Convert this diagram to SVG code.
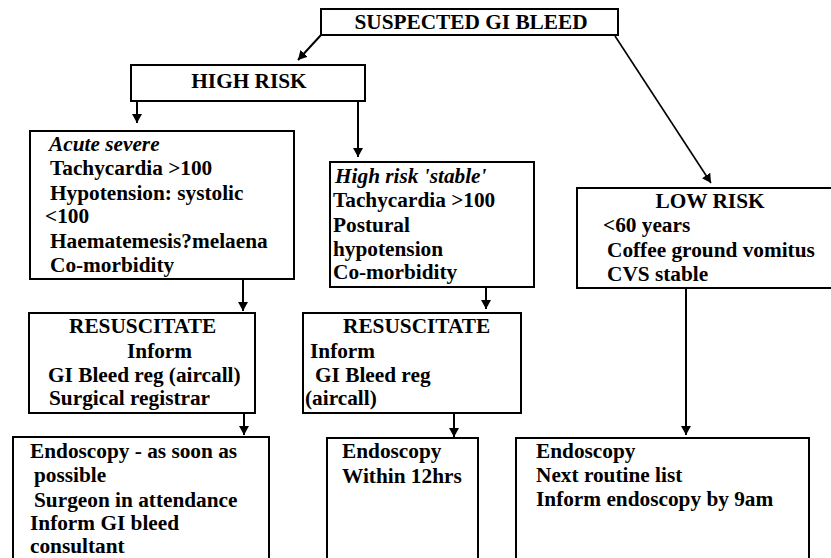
<svg xmlns="http://www.w3.org/2000/svg" width="831" height="558" viewBox="0 0 831 558">
  <style>
    .box { fill: #ffffff; stroke: #000000; stroke-width: 2; }
    text { font-family: 'Liberation Serif', Tinos, 'Times New Roman', Times, 'DejaVu Serif', serif; font-size: 21.3px; font-weight: bold; fill: #000000; }
    .it { font-style: italic; }
    .mid { text-anchor: middle; }
    .conn { fill: none; stroke: #000000; stroke-width: 2; }
    .thin { stroke-width: 1.6; }
  </style>
  <defs>
    <marker id="arrow" viewBox="0 0 9 10" refX="9" refY="5" markerWidth="9" markerHeight="10" markerUnits="userSpaceOnUse" orient="auto">
      <path d="M0,0 L9,5 L0,10 z" fill="#000000"/>
    </marker>
  </defs>
  <rect width="831" height="558" fill="#ffffff"/>

  <!-- connectors -->
  <g id="connectors">
    <line class="conn" x1="321" y1="35" x2="298" y2="60" marker-end="url(#arrow)"/>
    <line class="conn thin" x1="615" y1="36" x2="711" y2="183" marker-end="url(#arrow)"/>
    <line class="conn" x1="137" y1="101" x2="137" y2="123" marker-end="url(#arrow)"/>
    <line class="conn" x1="358" y1="101" x2="358" y2="157" marker-end="url(#arrow)"/>
    <line class="conn" x1="243" y1="279" x2="243" y2="311" marker-end="url(#arrow)"/>
    <line class="conn" x1="486" y1="287" x2="486" y2="309" marker-end="url(#arrow)"/>
    <line class="conn" x1="244" y1="413" x2="244" y2="435" marker-end="url(#arrow)"/>
    <line class="conn" x1="454" y1="413" x2="454" y2="437" marker-end="url(#arrow)"/>
    <line class="conn" x1="686" y1="288" x2="686" y2="435" marker-end="url(#arrow)"/>
  </g>

  <g id="suspected">
    <rect class="box" x="321" y="9" width="297" height="26"/>
    <text class="mid" x="471" y="29">SUSPECTED GI BLEED</text>
  </g>

  <g id="high-risk">
    <rect class="box" x="131" y="65" width="234" height="36"/>
    <text class="mid" x="249" y="88">HIGH RISK</text>
  </g>

  <g id="acute-severe">
    <rect class="box" x="30" y="131" width="264" height="148"/>
    <text class="it" x="49" y="151">Acute severe</text>
    <text x="50" y="175">Tachycardia &gt;100</text>
    <text x="50" y="200">Hypotension: systolic</text>
    <text x="45" y="223">&lt;100</text>
    <text x="50" y="248">Haematemesis?melaena</text>
    <text x="50" y="272">Co-morbidity</text>
  </g>

  <g id="high-risk-stable">
    <rect class="box" x="330" y="162" width="204" height="125"/>
    <text class="it" x="335" y="183">High risk 'stable'</text>
    <text x="333" y="207">Tachycardia &gt;100</text>
    <text x="333" y="232">Postural</text>
    <text x="333" y="256">hypotension</text>
    <text x="333" y="279">Co-morbidity</text>
  </g>

  <g id="low-risk">
    <rect class="box" x="577" y="188" width="270" height="100"/>
    <text class="mid" x="710" y="208">LOW RISK</text>
    <text x="603" y="232">&lt;60 years</text>
    <text x="607" y="257">Coffee ground vomitus</text>
    <text x="607" y="281">CVS stable</text>
  </g>

  <g id="resuscitate-1">
    <rect class="box" x="29" y="313" width="226" height="100"/>
    <text x="69" y="333">RESUSCITATE</text>
    <text x="127" y="358">Inform</text>
    <text x="48" y="382">GI Bleed reg (aircall)</text>
    <text x="49" y="405">Surgical registrar</text>
  </g>

  <g id="resuscitate-2">
    <rect class="box" x="303" y="313" width="218" height="100"/>
    <text x="343" y="333">RESUSCITATE</text>
    <text x="310" y="358">Inform</text>
    <text x="315" y="382">GI Bleed reg</text>
    <text x="305" y="405">(aircall)</text>
  </g>

  <g id="endoscopy-urgent">
    <rect class="box" x="13" y="437" width="256" height="140"/>
    <text x="30" y="458">Endoscopy - as soon as</text>
    <text x="34" y="482">possible</text>
    <text x="34" y="507">Surgeon in attendance</text>
    <text x="30" y="530">Inform GI bleed</text>
    <text x="30" y="553">consultant</text>
  </g>

  <g id="endoscopy-12hrs">
    <rect class="box" x="327" y="438" width="151" height="140"/>
    <text x="342" y="458">Endoscopy</text>
    <text x="342" y="483">Within 12hrs</text>
  </g>

  <g id="endoscopy-routine">
    <rect class="box" x="516" y="438" width="293" height="140"/>
    <text x="536" y="458">Endoscopy</text>
    <text x="536" y="482">Next routine list</text>
    <text x="536" y="506">Inform endoscopy by 9am</text>
  </g>
</svg>
